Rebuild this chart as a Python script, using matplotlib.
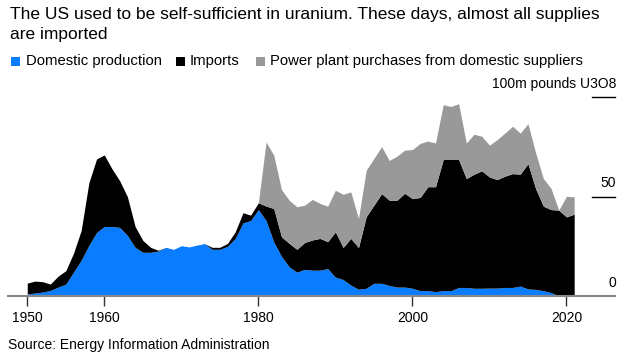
import numpy as np
import matplotlib
matplotlib.use("Agg")
import matplotlib.pyplot as plt
import matplotlib.transforms as mtransforms
from matplotlib.patches import Rectangle

plt.rcParams['font.family'] = ['Liberation Sans', 'DejaVu Sans']

# million pounds U3O8
years = list(range(1950, 2022))
domestic = [1.0, 1.5, 2.0, 2.8, 4.5, 6.0, 12.0, 18.0, 25.5, 32.0,
            35.0, 35.0, 34.5, 30.5, 24.5, 22.0, 22.0, 22.6, 24.5, 23.5,
            25.3, 24.7, 25.6, 26.4, 23.5, 23.5, 25.0, 29.0, 36.8, 38.0,
            43.5, 38.0, 27.2, 20.0, 14.7, 12.0, 13.4, 13.0, 13.0, 13.8,
            9.5, 8.3, 5.5, 3.4, 3.9, 6.4, 6.4, 5.3, 4.5, 4.5,
            3.9, 2.7, 2.7, 2.2, 2.7, 2.7, 4.3, 4.3, 3.9, 3.9,
            4.0, 4.0, 4.3, 4.3, 5.0, 3.6, 3.3, 2.7, 1.7, 0.2,
            0.0, 0.0]
imports = [5.5, 6.0, 5.2, 3.2, 5.5, 6.7, 9.5, 15.0, 31.5, 37.0,
           36.0, 29.0, 23.5, 19.5, 10.5, 6.0, 2.5, 0.4, 0.0, 0.0,
           0.0, 0.0, 0.0, 0.0, 1.0, 1.0, 1.5, 3.3, 5.1, 2.7,
           3.4, 7.3, 16.8, 9.8, 11.8, 11.5, 13.5, 15.2, 16.0, 13.5,
           22.8, 16.1, 23.5, 21.0, 36.0, 39.3, 45.1, 42.9, 43.7, 47.2,
           45.1, 46.9, 52.3, 52.8, 66.0, 66.0, 64.4, 54.8, 57.4, 59.1,
           55.9, 54.6, 56.0, 57.3, 56.3, 63.0, 50.7, 42.5, 41.8, 43.0,
           39.8, 41.2]
purchase_years = list(range(1980, 2022))
purchases = [0.0, 32.2, 26.9, 23.8, 21.7, 21.4, 18.8, 20.4, 17.6, 17.9,
             20.9, 26.8, 23.4, 14.6, 23.4, 23.5, 23.7, 20.0, 22.2, 21.7,
             24.7, 27.2, 23.0, 22.0, 27.6, 26.7, 28.1, 17.9, 20.1, 17.4,
             16.0, 20.1, 21.7, 23.8, 20.7, 20.1, 18.0, 13.9, 10.6, 0.0,
             10.4, 8.7]

xticks = [1950, 1960, 1980, 2000, 2020]
yticks = [0, 50, 100]
ylabels = ['0', '50', '100m pounds U3O8']

BLUE = '#0a7cff'
BLACK = '#000000'
GRAY = '#999999'

fig = plt.figure(figsize=(6.37, 3.6), dpi=100)
ax = fig.add_axes([8 / 637, 1 - 296 / 360, (615 - 8) / 637, (296 - 97.3) / 360])

yrs = np.array(years)
dom = np.array(domestic)
total = dom + np.array(imports)
p_yrs = np.array(purchase_years)
p_base = total[yrs >= 1980]

ax.fill_between(yrs, 0, dom, color=BLUE, lw=0)
ax.fill_between(yrs, dom, total, color=BLACK, lw=0)
ax.fill_between(p_yrs, p_base, p_base + np.array(purchases), color=GRAY, lw=0)

ax.set_xlim(1947.5, 2026.3)
ax.set_ylim(0, 100)
for s in ['top', 'right', 'left']:
    ax.spines[s].set_visible(False)
ax.spines['bottom'].set_color('#888888')
ax.spines['bottom'].set_linewidth(1.5)
ax.set_yticks([])
ax.set_xticks(xticks)
ax.tick_params(axis='x', length=7, width=1, color='#333333', pad=4,
               labelsize=10, labelcolor='#000000')
ax.set_xticklabels([str(t) for t in xticks])

# right-hand value labels with short grid stubs
trans = mtransforms.blended_transform_factory(ax.transAxes, ax.transData)
lab_trans = mtransforms.offset_copy(trans, fig=fig, x=1, y=6.8, units='points')
for v, lab in zip(yticks, ylabels):
    if v > 0:
        ax.plot([0.962, 1.0], [v, v], transform=trans, color='black', lw=1, clip_on=False)
    ax.text(1.0, v, lab, transform=lab_trans, ha='right', va='baseline', fontsize=10)

# title
fig.text(10 / 637, 1 - 7 / 360,
         'The US used to be self-sufficient in uranium. These days, almost all supplies\nare imported',
         ha='left', va='top', fontsize=12.5, linespacing=1.42)

# legend
legend_items = [('Domestic production', BLUE, 11, 26),
                ('Imports', BLACK, 176, 190),
                ('Power plant purchases from domestic suppliers', GRAY, 256, 270)]
for name, col, sx, tx in legend_items:
    fig.patches.append(Rectangle((sx / 637, 1 - 65.7 / 360), 9 / 637, 9 / 360,
                                 transform=fig.transFigure, color=col, lw=0))
    fig.text(tx / 637, 1 - 61 / 360, name, ha='left', va='center', fontsize=10.7)

fig.text(8 / 637, 1 - 345 / 360, 'Source: Energy Information Administration',
         ha='left', va='center', fontsize=10)

fig.savefig('out.png', dpi=100)
